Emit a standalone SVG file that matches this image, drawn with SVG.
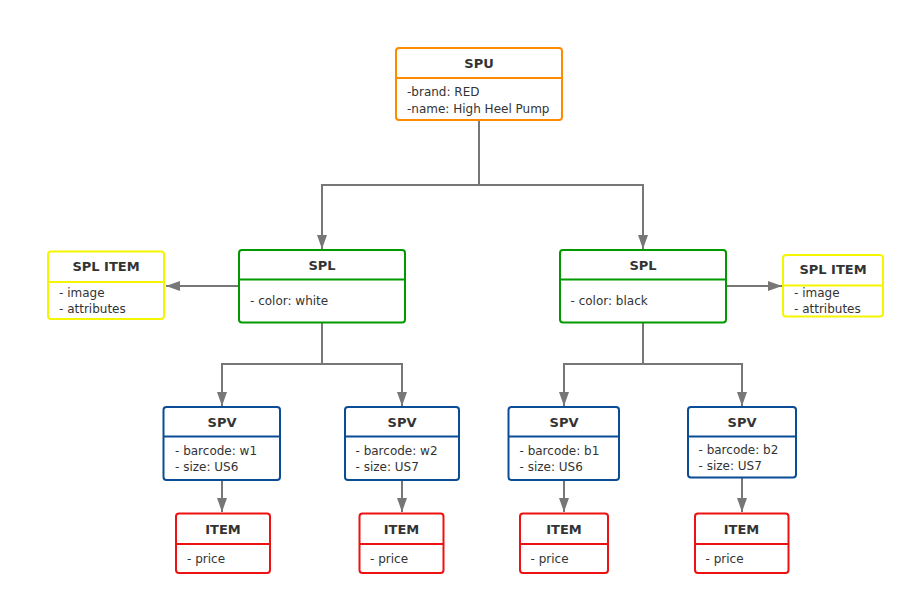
<svg xmlns="http://www.w3.org/2000/svg" width="915" height="605" viewBox="0 0 915 605">
<defs>
<marker id="arr" markerUnits="userSpaceOnUse" markerWidth="14" markerHeight="10" viewBox="0 0 14 10" refX="14" refY="5" orient="auto">
<path d="M0,0 L14,5 L0,10 z" fill="#777777"/>
</marker>
</defs>
<style>
.box{fill:#ffffff;stroke-width:2}
.sep{stroke-width:2}
.orange{stroke:#ff8a00}
.green{stroke:#009a00}
.yellow{stroke:#f5f500}
.blue{stroke:#0b4c96}
.red{stroke:#ee1111}
.t{font-family:"DejaVu Sans",Verdana,sans-serif;font-size:13px;font-weight:bold;fill:#333333;text-anchor:middle}
.b{font-family:"DejaVu Sans",Verdana,sans-serif;font-size:12px;fill:#333333}
.c{fill:none;stroke:#777777;stroke-width:2;marker-end:url(#arr)}
</style>
<rect width="915" height="605" fill="#ffffff"/>
<g id="connectors">
<path class="c" d="M479,121 V185 H322 V249"/>
<path class="c" d="M479,185 H643 V249"/>
<path class="c" d="M239,286 H166"/>
<path class="c" d="M726,286 H782"/>
<path class="c" d="M322,323 V364 H222 V406"/>
<path class="c" d="M322,364 H402 V406"/>
<path class="c" d="M643,323 V364 H564 V406"/>
<path class="c" d="M643,364 H742 V406"/>
<path class="c" d="M222,480 V512"/>
<path class="c" d="M402,480 V512"/>
<path class="c" d="M564,480 V512"/>
<path class="c" d="M742,477 V512"/>
</g>
<g id="spu">
<rect class="box orange" x="396" y="48" width="166" height="72" rx="3"/>
<line class="sep orange" x1="396" y1="78" x2="562" y2="78"/>
<text class="t" x="479" y="67.5">SPU</text>
<text class="b" x="407" y="96">-brand: RED</text>
<text class="b" x="407" y="112.5">-name: High Heel Pump</text>
</g>
<g id="spl-white">
<rect class="box green" x="239" y="250" width="166" height="72.5" rx="3"/>
<line class="sep green" x1="239" y1="279.5" x2="405" y2="279.5"/>
<text class="t" x="322" y="269.5">SPL</text>
<text class="b" x="250" y="304.5">- color: white</text>
</g>
<g id="spl-item-left">
<rect class="box yellow" x="48" y="251.5" width="116" height="67.5" rx="3"/>
<line class="sep yellow" x1="48" y1="282" x2="164" y2="282"/>
<text class="t" x="106" y="271">SPL ITEM</text>
<text class="b" x="59" y="297">- image</text>
<text class="b" x="59" y="312.5">- attributes</text>
</g>
<g id="spl-black">
<rect class="box green" x="560" y="250" width="166" height="72.5" rx="3"/>
<line class="sep green" x1="560" y1="279.5" x2="726" y2="279.5"/>
<text class="t" x="643" y="269.5">SPL</text>
<text class="b" x="570.5" y="304.5">- color: black</text>
</g>
<g id="spl-item-right">
<rect class="box yellow" x="783" y="255" width="100" height="61.5" rx="3"/>
<line class="sep yellow" x1="783" y1="285.5" x2="883" y2="285.5"/>
<text class="t" x="833" y="274">SPL ITEM</text>
<text class="b" x="794" y="297">- image</text>
<text class="b" x="794" y="312.5">- attributes</text>
</g>
<g id="spv-w1">
<rect class="box blue" x="163.5" y="407" width="116.5" height="73" rx="3"/>
<line class="sep blue" x1="163.5" y1="436.5" x2="280" y2="436.5"/>
<text class="t" x="222" y="427">SPV</text>
<text class="b" x="175" y="455">- barcode: w1</text>
<text class="b" x="175" y="470.5">- size: US6</text>
</g>
<g id="spv-w2">
<rect class="box blue" x="345" y="407" width="114" height="73" rx="3"/>
<line class="sep blue" x1="345" y1="436.5" x2="459" y2="436.5"/>
<text class="t" x="402" y="427">SPV</text>
<text class="b" x="355.5" y="455">- barcode: w2</text>
<text class="b" x="355.5" y="470.5">- size: US7</text>
</g>
<g id="spv-b1">
<rect class="box blue" x="508.5" y="407" width="110.5" height="73" rx="3"/>
<line class="sep blue" x1="508.5" y1="436.5" x2="619" y2="436.5"/>
<text class="t" x="564" y="427">SPV</text>
<text class="b" x="519.5" y="455">- barcode: b1</text>
<text class="b" x="519.5" y="470.5">- size: US6</text>
</g>
<g id="spv-b2">
<rect class="box blue" x="688" y="407" width="108" height="70.5" rx="3"/>
<line class="sep blue" x1="688" y1="436.5" x2="796" y2="436.5"/>
<text class="t" x="742" y="427">SPV</text>
<text class="b" x="698.5" y="454">- barcode: b2</text>
<text class="b" x="698.5" y="469.5">- size: US7</text>
</g>
<g id="item-w1">
<rect class="box red" x="176" y="513.5" width="94" height="59.5" rx="3"/>
<line class="sep red" x1="176" y1="544" x2="270" y2="544"/>
<text class="t" x="223" y="533.5">ITEM</text>
<text class="b" x="187" y="562.5">- price</text>
</g>
<g id="item-w2">
<rect class="box red" x="359.5" y="513.5" width="84" height="59.5" rx="3"/>
<line class="sep red" x1="359.5" y1="544" x2="443.5" y2="544"/>
<text class="t" x="401.5" y="533.5">ITEM</text>
<text class="b" x="370" y="562.5">- price</text>
</g>
<g id="item-b1">
<rect class="box red" x="520" y="513.5" width="88" height="59.5" rx="3"/>
<line class="sep red" x1="520" y1="544" x2="608" y2="544"/>
<text class="t" x="564" y="533.5">ITEM</text>
<text class="b" x="530.5" y="562.5">- price</text>
</g>
<g id="item-b2">
<rect class="box red" x="695" y="513.5" width="93.5" height="59.5" rx="3"/>
<line class="sep red" x1="695" y1="544" x2="788.5" y2="544"/>
<text class="t" x="741.5" y="533.5">ITEM</text>
<text class="b" x="705.5" y="562.5">- price</text>
</g>
</svg>
